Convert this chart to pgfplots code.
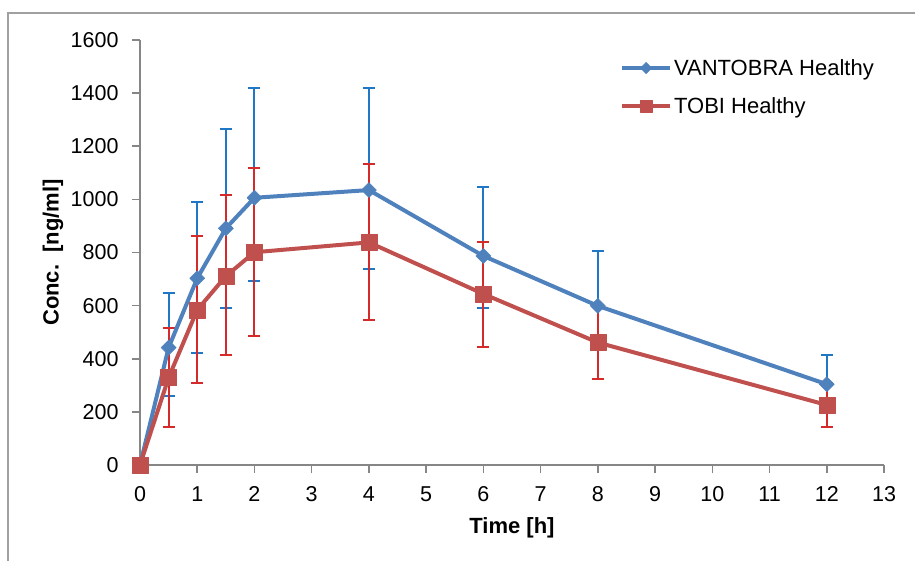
\documentclass[border=0pt]{standalone}
\usepackage{fontspec}
\setmainfont{Liberation Sans}
\usepackage{pgfplots}
\usepackage{pgfplotstable}
\pgfplotsset{compat=1.18}
\definecolor{blueline}{HTML}{4F81BD}
\definecolor{redline}{HTML}{C0504D}
\definecolor{errblue}{HTML}{1F77C6}
\definecolor{errred}{HTML}{D42A2A}
\definecolor{axisgray}{HTML}{868686}
\definecolor{framegray}{HTML}{A0A0A0}

\pgfplotstableread{
t v ep em
0 0 0 0
0.5 442 204 182
1 703 288 280
1.5 891 373 299
2 1006 412 313
4 1035 383 296
6 787 260 195
8 599 208 140
12 304 110 100
}\vantobra

\pgfplotstableread{
t v ep em
0 0 0 0
0.5 329 186 185
1 584 278 277
1.5 711 305 297
2 801 316 315
4 838 294 292
6 644 194 199
8 461 138 138
12 226 82 82
}\tobi

\begin{document}
\begin{tikzpicture}
\path[use as bounding box] (0,0) rectangle (915pt,560pt);
\clip (0,0) rectangle (915pt,560pt);
\draw[framegray, line width=1.5pt] (8pt,-20pt) -- (8pt,547pt) -- (940pt,547pt);
\begin{axis}[
  at={(140pt,95pt)}, anchor=south west,
  scale only axis, width=744pt, height=425pt,
  xmin=0, xmax=13, ymin=0, ymax=1600,
  axis lines=left,
  axis line style={-, draw=axisgray, line width=1.5pt},
  xtick={0,1,...,13}, ytick={0,200,...,1600},
  tick align=outside, major tick length=8pt,
  tick style={draw=axisgray, line width=1.5pt},
  /pgf/number format/assume math mode=true,
  /pgf/number format/1000 sep={},
  tick label style={font=\fontsize{21.5}{25}\selectfont, text=black},
  xticklabel style={yshift=-10pt},
  yticklabel style={xshift=-10pt},
  xlabel={Time [h]},
  ylabel={Conc.\ \ [ng/ml]},
  every axis x label/.style={at={(rel axis cs:0.5,0)}, yshift=-63pt, anchor=center, font=\bfseries\fontsize{22}{26}\selectfont},
  every axis y label/.style={at={(rel axis cs:0,0.5)}, xshift=-87pt, rotate=90, anchor=center, font=\bfseries\fontsize{22}{26}\selectfont},
  clip=false,
  legend cell align=left,
  legend style={at={(0.645,0.955)}, anchor=north west, draw=none, fill=none,
    font=\fontsize{22}{26}\selectfont, inner sep=0pt, row sep=21pt,
    nodes={inner xsep=2pt, inner ysep=0pt}},
  legend image code/.code={\draw[mark repeat=2, mark phase=2, #1, /tikz/every mark/.append style={scale=0.75}] plot coordinates {(0pt,0pt) (24pt,0pt) (48pt,0pt)};},
]
\addplot[only marks, mark=none, forget plot,
  error bars/.cd, y dir=both, y explicit,
  error bar style={draw=errblue, line width=2pt},
  error mark options={rotate=90, draw=errblue, line width=2pt, mark size=6pt}]
  table[x=t, y=v, y error plus=ep, y error minus=em]{\vantobra};
\addplot[only marks, mark=none, forget plot,
  error bars/.cd, y dir=both, y explicit,
  error bar style={draw=errred, line width=2pt},
  error mark options={rotate=90, draw=errred, line width=2pt, mark size=6pt}]
  table[x=t, y=v, y error plus=ep, y error minus=em]{\tobi};
\addplot[blueline, line width=4pt, line join=round, mark=square*, mark size=5.3pt,
  mark options={rotate=45, fill=blueline, draw=blueline, line width=0.5pt}]
  table[x=t, y=v]{\vantobra};
\addlegendentry{VANTOBRA Healthy}
\addplot[redline, line width=4pt, line join=round, mark=square*, mark size=8pt,
  mark options={fill=redline, draw=redline, line width=0.5pt}]
  table[x=t, y=v]{\tobi};
\addlegendentry{TOBI Healthy}
\end{axis}
\end{tikzpicture}
\end{document}
